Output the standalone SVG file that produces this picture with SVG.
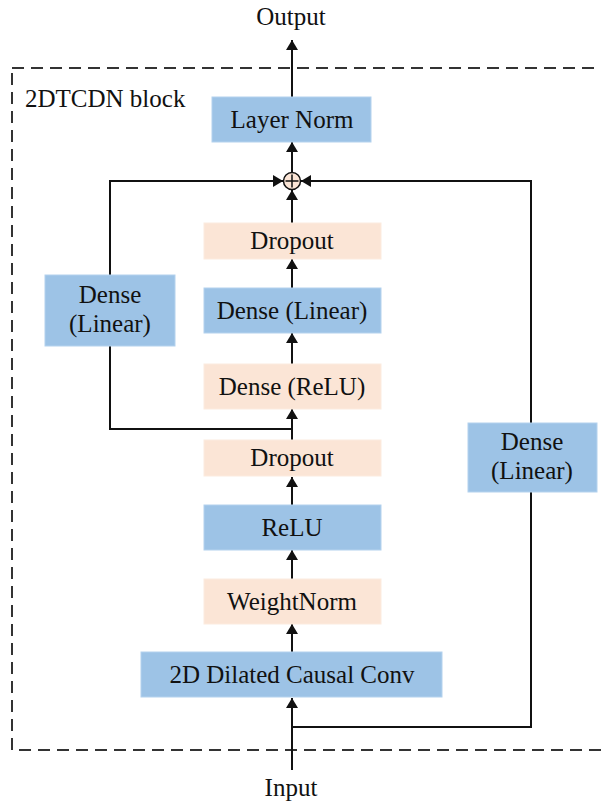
<svg xmlns="http://www.w3.org/2000/svg" width="601" height="804" viewBox="0 0 601 804">
<defs>
<style>
.blue{fill:#9DC3E6;stroke:#B4D2EE;stroke-width:1}
.peach{fill:#FBE5D6;stroke:#FCEBDF;stroke-width:1}
text{font-family:'Liberation Serif','DejaVu Serif',serif;font-size:25px;fill:#111;text-anchor:middle}
.ln{fill:none;stroke:#111;stroke-width:2}
</style>
<marker id="ah" viewBox="0 0 10 12" refX="10" refY="6" markerWidth="10" markerHeight="12" markerUnits="userSpaceOnUse" orient="auto">
<path d="M0,0 L10,6 L0,12 Z" fill="#111"/>
</marker>
</defs>
<rect width="601" height="804" fill="#fff"/>
<g id="block">
<rect x="12" y="68" width="590" height="682" fill="none" stroke="#333" stroke-width="2" stroke-dasharray="12,7"/>
<text x="25" y="107" style="text-anchor:start">2DTCDN block</text>
</g>
<g id="connectors">
<path class="ln" d="M292,770 L292,698" marker-end="url(#ah)"/>
<path class="ln" d="M292,652 L292,624" marker-end="url(#ah)"/>
<path class="ln" d="M292,579 L292,550" marker-end="url(#ah)"/>
<path class="ln" d="M292,505 L292,477" marker-end="url(#ah)"/>
<path class="ln" d="M292,440 L292,409" marker-end="url(#ah)"/>
<path class="ln" d="M292,364 L292,333" marker-end="url(#ah)"/>
<path class="ln" d="M292,288 L292,259" marker-end="url(#ah)"/>
<path class="ln" d="M292,223 L292,190" marker-end="url(#ah)"/>
<path class="ln" d="M292,172 L292,142" marker-end="url(#ah)"/>
<path class="ln" d="M292,97 L292,40" marker-end="url(#ah)"/>
<path class="ln" d="M292,429 L110,429 L110,346"/>
<path class="ln" d="M110,275 L110,181 L283,181" marker-end="url(#ah)"/>
<path class="ln" d="M292,727 L531,727 L531,492"/>
<path class="ln" d="M531,423 L531,181 L301,181" marker-end="url(#ah)"/>
</g>
<g id="sum">
<circle cx="292" cy="181" r="8.5" fill="#FBE5D6" stroke="#111" stroke-width="1.5"/>
<path d="M292,174.5 L292,187.5 M285.5,181 L298.5,181" stroke="#111" stroke-width="1.5"/>
</g>
<g id="output"><text x="291" y="25">Output</text></g>
<g id="input"><text x="291" y="796">Input</text></g>
<g id="layernorm"><rect class="blue" x="212" y="97" width="159" height="45"/><text x="292" y="128">Layer Norm</text></g>
<g id="dropout1"><rect class="peach" x="204" y="223" width="177" height="36"/><text x="292" y="249">Dropout</text></g>
<g id="denselinear"><rect class="blue" x="204" y="288" width="177" height="45"/><text x="292" y="319">Dense (Linear)</text></g>
<g id="denserelu"><rect class="peach" x="204" y="364" width="177" height="45"/><text x="292" y="395">Dense (ReLU)</text></g>
<g id="dropout2"><rect class="peach" x="204" y="440" width="177" height="36"/><text x="292" y="466">Dropout</text></g>
<g id="relu"><rect class="blue" x="204" y="505" width="177" height="45"/><text x="292" y="536">ReLU</text></g>
<g id="weightnorm"><rect class="peach" x="204" y="579" width="177" height="45"/><text x="292" y="610">WeightNorm</text></g>
<g id="conv"><rect class="blue" x="141" y="652" width="301" height="45"/><text x="292" y="683">2D Dilated Causal Conv</text></g>
<g id="leftdense"><rect class="blue" x="45" y="275" width="130" height="71"/><text x="110" y="303">Dense</text><text x="110" y="332">(Linear)</text></g>
<g id="rightdense"><rect class="blue" x="468" y="423" width="129" height="69"/><text x="532" y="450">Dense</text><text x="532" y="479">(Linear)</text></g>
</svg>
